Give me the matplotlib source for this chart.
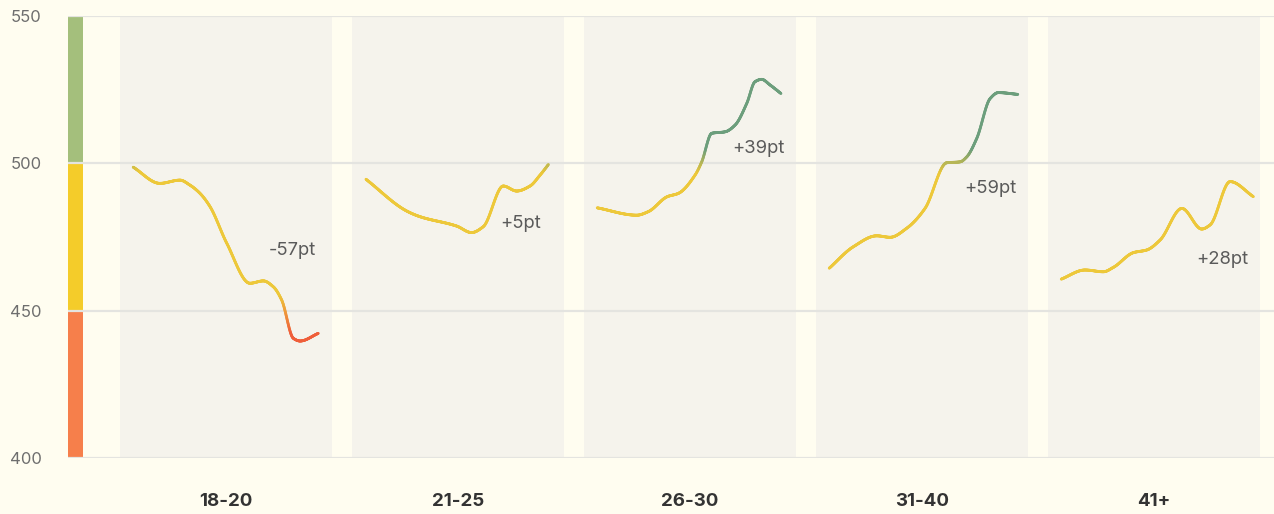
import numpy as np
import matplotlib
matplotlib.use("Agg")
import matplotlib.pyplot as plt
from matplotlib.collections import LineCollection
from matplotlib.colors import to_rgb

# ---------------- data ----------------
groups = ["18-20", "21-25", "26-30", "31-40", "41+"]

t_18_20 = [0.0, 0.144, 0.252, 0.306, 0.36, 0.414, 0.504, 0.629, 0.701, 0.755, 0.80, 0.863, 0.899, 0.997]
v_18_20 = [498.7, 493.2, 494.3, 492.6, 489.8, 485.3, 472.9, 459.3, 460.1, 458.1, 453.6, 440.6, 439.7, 442.3]

t_21_25 = [0.004, 0.224, 0.295, 0.493, 0.573, 0.636, 0.744, 0.816, 0.888, 0.942, 0.987]
v_21_25 = [494.6, 483.8, 481.9, 478.7, 476.5, 478.5, 492.3, 490.6, 492.3, 496.0, 499.6]

t_26_30 = [0.0, 0.213, 0.275, 0.378, 0.437, 0.527, 0.563, 0.617, 0.689, 0.743, 0.806, 0.85, 0.886, 0.931, 0.99]
v_26_30 = [484.9, 482.4, 483.6, 488.7, 489.8, 496.0, 500.5, 510.2, 510.7, 513.0, 520.4, 527.7, 528.5, 526.6, 523.7]

t_31_40 = [0.0, 0.13, 0.256, 0.328, 0.418, 0.516, 0.633, 0.705, 0.741, 0.795, 0.867, 0.911, 1.016]
v_31_40 = [464.4, 471.7, 475.4, 474.9, 478.0, 484.7, 500.2, 500.5, 502.2, 508.5, 522.0, 524.0, 523.4]

t_41 = [0.0, 0.128, 0.227, 0.281, 0.389, 0.461, 0.533, 0.65, 0.757, 0.802, 0.91, 1.035]
v_41 = [460.7, 463.8, 463.2, 464.7, 469.7, 470.6, 474.0, 484.7, 477.7, 479.1, 493.8, 488.7]

series_t = [t_18_20, t_21_25, t_26_30, t_31_40, t_41]
series_v = [v_18_20, v_21_25, v_26_30, v_31_40, v_41]

changes = ["-57pt", "+5pt", "+39pt", "+59pt", "+28pt"]
label_y = [470.5, 479.5, 505.0, 491.5, 467.3]

y_ticks = [400, 450, 500, 550]
band_edges = [400, 450, 500, 550]

# ---------------- style ----------------
BG = "#fffdf0"
PANEL = "#f5f3ec"
GRID = "#e4e4e0"
BAND_COLORS = ["#f67f4b", "#f4cc2a", "#a4bf7c"]
LINE_YELLOW = to_rgb("#edc83a")
LINE_GREEN = to_rgb("#6c9e7c")
LINE_ORANGE = to_rgb("#ef5e3a")
FONT = ["Inter", "DejaVu Sans"]


def pchip(x, y, xn):
    x = np.asarray(x, float)
    y = np.asarray(y, float)
    h = np.diff(x)
    d = np.diff(y) / h
    n = len(x)
    m = np.zeros(n)
    for k in range(1, n - 1):
        if d[k - 1] * d[k] <= 0:
            m[k] = 0.0
        else:
            w1 = 2 * h[k] + h[k - 1]
            w2 = h[k] + 2 * h[k - 1]
            m[k] = (w1 + w2) / (w1 / d[k - 1] + w2 / d[k])
    m[0] = d[0]
    m[-1] = d[-1]
    out = np.empty_like(xn)
    idx = np.clip(np.searchsorted(x, xn) - 1, 0, n - 2)
    for j, (xx, i) in enumerate(zip(xn, idx)):
        hh = h[i]
        s = (xx - x[i]) / hh
        h00 = 2 * s**3 - 3 * s**2 + 1
        h10 = s**3 - 2 * s**2 + s
        h01 = -2 * s**3 + 3 * s**2
        h11 = s**3 - s**2
        out[j] = h00 * y[i] + h10 * hh * m[i] + h01 * y[i + 1] + h11 * hh * m[i + 1]
    return out


def line_color(v):
    c = np.array(LINE_YELLOW)
    if v > 497:
        f = min((v - 497) / 8.0, 1.0)
        c = (1 - f) * c + f * np.array(LINE_GREEN)
    elif v < 455:
        f = min((455 - v) / 13.0, 1.0)
        c = (1 - f) * c + f * np.array(LINE_ORANGE)
    return tuple(c)


W, H = 1274, 514
fig = plt.figure(figsize=(W / 100, H / 100), dpi=100, facecolor=BG)
ax = fig.add_axes([68 / W, 1 - 458 / H, 1 - 68 / W, (458 - 16) / H])
ax.set_facecolor(BG)

# x layout: group pitch 1; centers at i + 0.5
ax.set_xlim(-0.181, 5.017)
ax.set_ylim(400, 550)

panel_half = 0.457
bar_x0, bar_x1 = -0.181, -0.116
line_start, line_span = 0.1, 0.8
label_off = 0.683

for i in range(len(groups)):
    ax.axvspan(i + 0.5 - panel_half, i + 0.5 + panel_half, color=PANEL, lw=0, zorder=0)

for k in range(3):
    ax.fill_between([bar_x0, bar_x1], band_edges[k], band_edges[k + 1],
                    color=BAND_COLORS[k], lw=0, zorder=1)

for yt in y_ticks:
    ax.axhline(yt, color=GRID, lw=1.6, zorder=2)

for i, (tt, vv) in enumerate(zip(series_t, series_v)):
    xs = i + line_start + line_span * np.asarray(tt)
    xn = np.linspace(xs[0], xs[-1], 600)
    yn = pchip(xs, vv, xn)
    pts = np.column_stack([xn, yn]).reshape(-1, 1, 2)
    segs = np.concatenate([pts[:-1], pts[1:]], axis=1)
    cols = [line_color(0.5 * (yn[j] + yn[j + 1])) for j in range(len(yn) - 1)]
    lc = LineCollection(segs, colors=cols, linewidths=2.0, capstyle="round", zorder=4)
    ax.add_collection(lc)
    ax.text(i + label_off, label_y[i], changes[i], ha="left", va="center",
            fontsize=13.3, color="#5a5a5a", family=FONT, zorder=5)

ax.set_yticks(y_ticks)
ax.set_yticklabels([str(v) for v in y_ticks], family=FONT,
                   fontsize=12, color="#6e6e6e")
ax.set_xticks([i + 0.5 for i in range(len(groups))])
ax.set_xticklabels(groups, family=FONT, fontsize=13.5,
                   fontweight="bold", color="#333333")
ax.tick_params(axis="y", length=0, pad=19)
ax.tick_params(axis="x", length=0, pad=25)
for s in ax.spines.values():
    s.set_visible(False)

fig.savefig("out.png", dpi=100, facecolor=BG)
